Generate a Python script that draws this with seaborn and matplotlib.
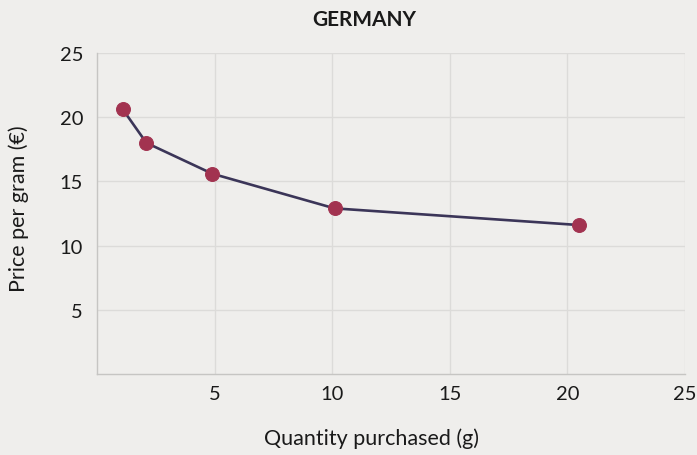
import matplotlib
matplotlib.use("Agg")
import matplotlib.pyplot as plt
import seaborn as sns
import pandas as pd

# data
quantity_g = [1.1, 2.1, 4.9, 10.1, 20.5]
price_per_gram = [20.6, 18.0, 15.6, 12.9, 11.6]
ticks = [5, 10, 15, 20, 25]

bg = "#efeeec"
line_color = "#3b3558"
marker_color = "#a23350"

sns.set_theme(style="whitegrid")
plt.rcParams['font.family'] = ['Lato', 'DejaVu Sans']

df = pd.DataFrame({"q": quantity_g, "p": price_per_gram})

fig = plt.figure(figsize=(6.97, 4.56), dpi=100, facecolor=bg)
ax = fig.add_axes([97 / 697, 1 - 375 / 456, (685 - 97) / 697, (375 - 54) / 456])
ax.set_facecolor(bg)

sns.lineplot(data=df, x="q", y="p", ax=ax, color=line_color, linewidth=1.9,
             marker="o", markersize=10, markerfacecolor=marker_color,
             markeredgecolor=marker_color, zorder=3)

ax.set_xlim(0, 25)
ax.set_ylim(0, 25)
ax.set_xticks(ticks)
ax.set_yticks(ticks)
ax.tick_params(axis="both", length=0, labelsize=14.5, colors="#1a1a1a")
ax.tick_params(axis="x", pad=8)
ax.tick_params(axis="y", pad=10)
ax.grid(True, color="#dcdbd9", linewidth=1)
for s in ["top", "right"]:
    ax.spines[s].set_visible(False)
for s in ["left", "bottom"]:
    ax.spines[s].set_color("#c6c5c3")
    ax.spines[s].set_linewidth(1)
ax.set_xlabel("")
ax.set_ylabel("")

fig.text(364 / 697, 1 - 20 / 456, "GERMANY", ha="center", va="center",
         fontsize=15, fontweight="bold", color="#1a1a1a")
fig.text(372 / 697, 1 - 439 / 456, "Quantity purchased (g)", ha="center",
         va="center", fontsize=15.5, color="#1a1a1a")
fig.text(19 / 697, 1 - 209 / 456, "Price per gram (€)", ha="center",
         va="center", rotation=90, fontsize=15.5, color="#1a1a1a")

fig.savefig("out.png", dpi=100, facecolor=bg)
